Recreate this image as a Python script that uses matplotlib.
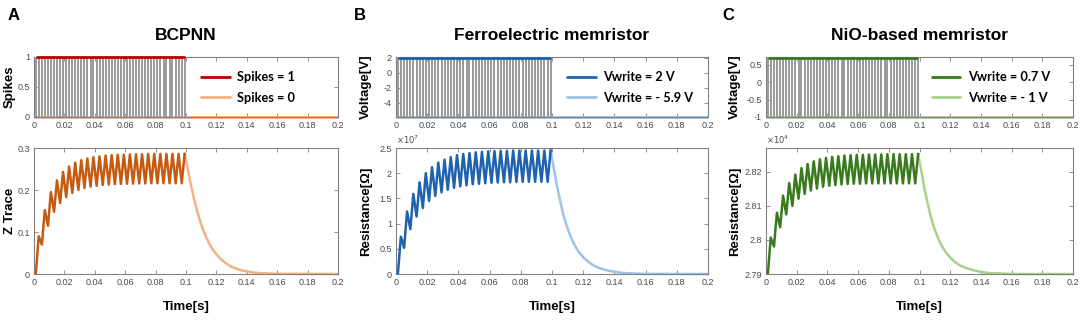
import numpy as np
import matplotlib
matplotlib.use('Agg')
import matplotlib.pyplot as plt
from matplotlib.ticker import FixedLocator, FuncFormatter

plt.rcParams['font.family'] = ['Liberation Sans', 'DejaVu Sans']

# ---------------- data ----------------
time_ticks = [0, 0.02, 0.04, 0.06, 0.08, 0.1, 0.12, 0.14, 0.16, 0.18, 0.2]
spike_onsets = [0.0012, 0.0052, 0.0092, 0.0132, 0.0172, 0.0212, 0.0252, 0.0292,
                0.0332, 0.0372, 0.0412, 0.0452, 0.0492, 0.0532, 0.0572, 0.0612,
                0.0652, 0.0692, 0.0732, 0.0772, 0.0812, 0.0852, 0.0892, 0.0932,
                0.0972]
pulse_width = 0.0019
decay_times = [0.0991, 0.1011, 0.1031, 0.1051, 0.1071, 0.1091, 0.1111, 0.1131,
               0.1151, 0.1171, 0.1201, 0.1231, 0.1261, 0.1301, 0.1351, 0.1401,
               0.1451, 0.1501, 0.1601, 0.2]

# A: BCPNN z-trace
a_peaks = [0.090, 0.152, 0.195, 0.223, 0.243, 0.256, 0.265, 0.271, 0.275, 0.278,
           0.280, 0.282, 0.283, 0.284, 0.284, 0.285, 0.285, 0.285, 0.286, 0.286,
           0.286, 0.286, 0.286, 0.286, 0.286]
a_troughs = [0.070, 0.115, 0.148, 0.169, 0.183, 0.193, 0.200, 0.205, 0.208, 0.210,
             0.212, 0.213, 0.214, 0.2145, 0.215, 0.215, 0.2155, 0.2155, 0.216, 0.216,
             0.216, 0.216, 0.216, 0.216]
a_decay = [0.286, 0.250, 0.214, 0.182, 0.153, 0.128, 0.107, 0.089, 0.074, 0.061,
           0.046, 0.035, 0.026, 0.017, 0.010, 0.0058, 0.0031, 0.0016, 0.0004, 0.0]

# B: ferroelectric memristor resistance (x1e7 Ohm)
b_peaks = [0.74, 1.24, 1.59, 1.82, 2.00, 2.12, 2.21, 2.27, 2.32, 2.36, 2.38, 2.40,
           2.415, 2.425, 2.435, 2.44, 2.445, 2.445, 2.45, 2.45, 2.45, 2.45, 2.45,
           2.45, 2.45]
b_troughs = [0.52, 0.89, 1.14, 1.31, 1.45, 1.55, 1.62, 1.67, 1.71, 1.74, 1.76, 1.78,
             1.79, 1.80, 1.81, 1.815, 1.82, 1.82, 1.825, 1.83, 1.83, 1.83, 1.83, 1.83]
b_decay = [2.45, 2.11, 1.76, 1.47, 1.20, 0.98, 0.81, 0.66, 0.54, 0.44, 0.33, 0.245,
           0.18, 0.12, 0.074, 0.042, 0.022, 0.012, 0.0025, 0.0]

# C: NiO-based memristor resistance (x1e4 Ohm)
c_peaks = [2.8007, 2.8080, 2.8130, 2.8167, 2.8192, 2.8211, 2.8223, 2.8231, 2.8237,
           2.8241, 2.8244, 2.8246, 2.8248, 2.8249, 2.8250, 2.8250, 2.8251, 2.8251,
           2.8251, 2.8252, 2.8252, 2.8252, 2.8252, 2.8252, 2.8252]
c_troughs = [2.7981, 2.8037, 2.8075, 2.8100, 2.8121, 2.8135, 2.8145, 2.8151, 2.8156,
             2.8159, 2.8161, 2.8163, 2.8164, 2.8165, 2.8165, 2.8166, 2.8166, 2.8166,
             2.8166, 2.8166, 2.8166, 2.8166, 2.8166, 2.8166]
c_decay = [2.8252, 2.8204, 2.8154, 2.8112, 2.8073, 2.8041, 2.8017, 2.7995, 2.7978,
           2.7964, 2.7948, 2.7935, 2.7926, 2.7918, 2.7911, 2.7906, 2.7903, 2.7902,
           2.7900, 2.79]

letters = ["A", "B", "C"]
titles = ["BCPNN", "Ferroelectric memristor", "NiO-based memristor"]
top_ylabels = ["Spikes", "Voltage[V]", "Voltage[V]"]
bot_ylabels = ["Z Trace", "Resistance[Ω]", "Resistance[Ω]"]
legend_labels = [["Spikes = 1", "Spikes = 0"],
                 ["Vwrite = 2 V", "Vwrite = - 5.9 V"],
                 ["Vwrite = 0.7 V", "Vwrite = - 1 V"]]
high_levels = [1, 2, 0.7]
low_levels = [0, -5.9, -1]
top_ylims = [(0, 1.0), (-5.9, 2.1), (-1, 0.72)]
top_yticks = [[0, 0.5, 1], [-4, -2, 0, 2], [-1, -0.5, 0, 0.5]]
bot_ylims = [(0, 0.3), (0, 2.5), (2.79, 2.827)]
bot_yticks = [[0, 0.1, 0.2, 0.3], [0, 0.5, 1, 1.5, 2, 2.5], [2.79, 2.8, 2.81, 2.82]]
offsets = [None, r'$\times10^{7}$', r'$\times10^{4}$']
peaks_all = [a_peaks, b_peaks, c_peaks]
troughs_all = [a_troughs, b_troughs, c_troughs]
decay_all = [a_decay, b_decay, c_decay]
base_levels = [0, 0, 2.79]

dark_colors = ['#C55A11', '#1F63AE', '#3A7A1E']
light_colors = ['#F4B183', '#9DC3E6', '#A9D18E']
high_colors = ['#C00000', '#1F63AE', '#3A7A1E']
spike_gray = '#9A9A9A'
spine_gray = '#808080'
tick_text = '#4A4A4A'

# ---------------- layout ----------------
W, H = 1084, 323
fig = plt.figure(figsize=(W / 100, H / 100), dpi=100)

lefts = [34, 396, 766]
rights = [338, 708, 1073]
top_box = (57, 117)
bot_box = (148, 274)
leg_x = [0.53, 0.53, 0.52]
ylab_center = [10, 366, 735]   # pixel x of the y-label centres
letter_x = [8, 354, 722]


def fig_rect(l, r, t, b):
    return [l / W, 1 - b / H, (r - l) / W, (b - t) / H]


fmt = FuncFormatter(lambda v, p: f"{v:g}")


def style(ax, yt):
    for s in ax.spines.values():
        s.set_color(spine_gray)
        s.set_linewidth(0.8)
    ax.xaxis.set_major_locator(FixedLocator(time_ticks))
    ax.yaxis.set_major_locator(FixedLocator(yt))
    ax.xaxis.set_major_formatter(fmt)
    ax.yaxis.set_major_formatter(fmt)
    ax.tick_params(direction='in', top=True, right=True, length=3, width=0.6,
                   color=spine_gray, labelsize=6.5, labelcolor=tick_text, pad=3)
    ax.set_xlim(0, 0.2)


def place_ylabel(ax, i, text):
    ax.set_ylabel(text, fontsize=9.5, fontweight='bold')
    ax.yaxis.label.set_va('center')
    ax.yaxis.set_label_coords((ylab_center[i] - lefts[i]) / (rights[i] - lefts[i]), 0.5)


for i in range(3):
    # ---------- top: spikes / voltage ----------
    ax = fig.add_axes(fig_rect(lefts[i], rights[i], *top_box))
    hi, lo = high_levels[i], low_levels[i]
    gx, gy = [], []
    for on in spike_onsets:
        gx += [on, on, on + pulse_width, on + pulse_width, np.nan]
        gy += [lo, hi, hi, lo, np.nan]
    ax.plot([0, 0.2], [lo, lo], color=light_colors[i], lw=2.0, clip_on=False,
            zorder=2, solid_capstyle='butt', label=legend_labels[i][1])
    ax.plot(gx, gy, color=spike_gray, lw=1.4, zorder=3)
    ax.plot([spike_onsets[0], spike_onsets[-1] + pulse_width], [hi, hi],
            color=high_colors[i], lw=2.0, clip_on=False, zorder=4,
            solid_capstyle='butt', label=legend_labels[i][0])
    ax.set_ylim(*top_ylims[i])
    style(ax, top_yticks[i])
    h, l = ax.get_legend_handles_labels()
    ax.legend([h[1], h[0]], [l[1], l[0]], loc='center left',
              bbox_to_anchor=(leg_x[i], 0.49), frameon=False,
              prop={'family': 'Lato', 'weight': 'bold', 'size': 9.2},
              handlelength=2.4, handletextpad=0.5, labelspacing=0.65,
              borderaxespad=0)
    place_ylabel(ax, i, top_ylabels[i])
    ax.set_title(titles[i], fontsize=12.5, fontweight='bold', pad=12)

    # ---------- bottom: trace / resistance ----------
    bx = fig.add_axes(fig_rect(lefts[i], rights[i], *bot_box))
    zt = [spike_onsets[0]]
    zv = [base_levels[i]]
    pk, tr = peaks_all[i], troughs_all[i]
    for k in range(len(spike_onsets)):
        zt.append(spike_onsets[k] + pulse_width)
        zv.append(pk[k])
        if k < len(tr):
            zt.append(spike_onsets[k + 1])
            zv.append(tr[k])
    bx.plot(decay_times, decay_all[i], color=light_colors[i], lw=1.8,
            clip_on=False, zorder=2)
    bx.plot(zt, zv, color=dark_colors[i], lw=1.8, zorder=3)
    bx.set_ylim(*bot_ylims[i])
    style(bx, bot_yticks[i])
    place_ylabel(bx, i, bot_ylabels[i])
    bx.set_xlabel("Time[s]", fontsize=9.5, fontweight='bold')
    bx.xaxis.label.set_va('center')
    bx.xaxis.set_label_coords(0.5, -33 / (bot_box[1] - bot_box[0]))
    if offsets[i]:
        bx.text(0.0, 1.015, offsets[i], transform=bx.transAxes, fontsize=6,
                color=tick_text, ha='left', va='bottom')

    fig.text(letter_x[i] / W, 1 - 15 / H, letters[i], fontsize=12,
             fontweight='bold', ha='left', va='center')

fig.savefig('out.png', dpi=100)
